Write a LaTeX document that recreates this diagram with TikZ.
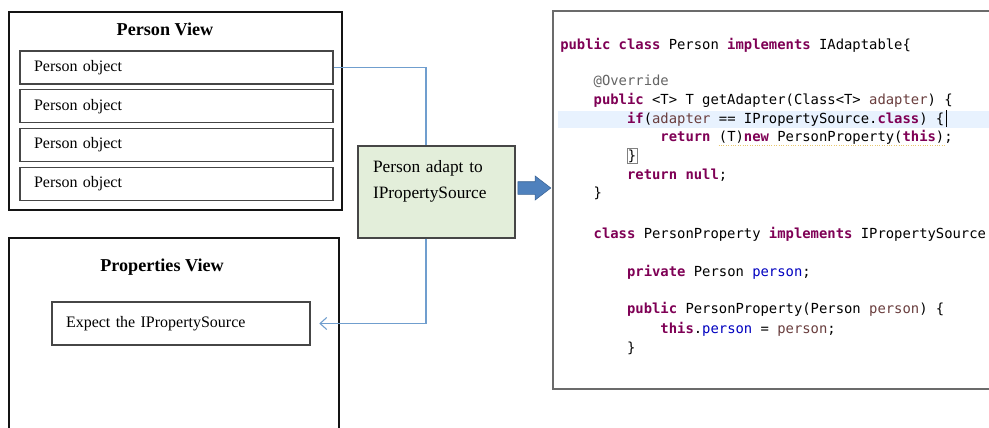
\documentclass[tikz,border=0pt]{standalone}
\usepackage{fontspec}
\setmainfont{Liberation Serif}
\newfontfamily\codefont{DejaVu Sans Mono}
\usetikzlibrary{positioning,arrows.meta,shapes.arrows}
\definecolor{frameink}{RGB}{20,20,20}
\definecolor{rowink}{RGB}{70,70,70}
\definecolor{linkblue}{RGB}{112,158,206}
\definecolor{adaptgreen}{RGB}{227,238,218}
\definecolor{fatblue}{RGB}{79,129,189}
\definecolor{fatedge}{RGB}{58,98,148}
\definecolor{kwpurple}{RGB}{127,0,85}
\definecolor{fldblue}{RGB}{0,0,192}
\definecolor{prmbrown}{RGB}{106,62,62}
\definecolor{anngray}{RGB}{100,100,100}
\definecolor{curline}{RGB}{232,242,254}
\definecolor{warnline}{RGB}{232,200,110}
\newcommand{\kw}[1]{\textcolor{kwpurple}{\bfseries #1}}
\newcommand{\fld}[1]{\textcolor{fldblue}{#1}}
\newcommand{\prm}[1]{\textcolor{prmbrown}{#1}}
\tikzset{
  viewframe/.style={draw=frameink,line width=2.2pt},
  viewtitle/.style={font=\bfseries\fontsize{13.6}{16}\selectfont},
  row/.style={draw=rowink,line width=0.9pt,minimum height=24.75pt,inner xsep=10.5pt,
              text width=213.75pt,align=left,font=\fontsize{12}{14}\selectfont},
  adaptbox/.style={draw=rowink,fill=adaptgreen,line width=0.8pt,minimum height=69pt,
              inner xsep=11.25pt,text width=95.25pt,align=left,
              font=\fontsize{13}{19.5}\selectfont},
  link/.style={draw=linkblue,line width=0.8pt},
  fatarrow/.style={single arrow,fill=fatblue,draw=fatedge,line width=0.4pt,
              minimum height=24.75pt,inner sep=4.5pt,single arrow head extend=4.3pt,
              single arrow tip angle=75},
  codeframe/.style={draw=rowink!80,line width=1pt,minimum width=335.25pt,minimum height=283.5pt},
  code/.style={anchor=base west,inner sep=0pt,font=\codefont\fontsize{10.4}{12}\selectfont}
}
\begin{document}
\begin{tikzpicture}[x=0.75pt,y=-0.75pt]
    \clip (0,0) rectangle (989,428);
    \fill[white] (0,0) rectangle (989,428);
    % --- Person View
    \node[viewframe,minimum width=249.75pt,minimum height=148.5pt] (pview) at (175.5,111) {};
    \node[viewtitle] (pvtitle) at (165,29) {Person View};
    \node[row] (obj1) at (176.5,67.5) {Person object};
    \node[row,below=3.4pt of obj1] (obj2) {Person object};
    \node[row,below=3.4pt of obj2] (obj3) {Person object};
    \node[row,below=3.4pt of obj3] (obj4) {Person object};
    % --- Properties View
    \node[viewframe,minimum width=247.5pt,minimum height=159pt] (prview) at (174,344) {};
    \node[viewtitle] (prtitle) at (162,267) {Properties View};
    \node[row,minimum height=32.25pt,text width=172.5pt] (expect) at (181,323.5)
      {Expect the IPropertySource};
    % --- adapter
    \node[adaptbox] (adapt) at (436.5,192) {Person adapt to\\IPropertySource\\\mbox{}};
    \coordinate (lane) at (426,0);
    \draw[link] (obj1.east) -| (lane |- adapt.north);
    \draw[link,-{Straight Barb[length=5pt,width=9pt]},shorten >=6.5pt]
      (lane |- adapt.south) |- (expect.east);
    \node[fatarrow,right=1.5pt of adapt,yshift=3pt] (fat) {};
    % --- code
    \node[codeframe] (code) at (776.5,200) {};
    \fill[curline] (558,111) rectangle (989,128);
    \node[code] (ln1) at (560,50) {\kw{public} \kw{class} Person \kw{implements} IAdaptable\{};
    \node[code] (ln2) at (593.4,86) {\textcolor{anngray}{@Override}};
    \node[code] (ln3) at (593.4,104) {\kw{public} <T> T getAdapter(Class<T> \prm{adapter}) \{};
    \node[code] (ln4) at (626.8,123) {\kw{if}(\prm{adapter} == IPropertySource.\kw{class}) \{};
    \node[code] (ln5) at (660.2,142) {\kw{return} (T)\kw{new} PersonProperty(\kw{this});};
    \node[code,draw=gray,inner sep=0.6pt] (ln6) at (626.8,160) {\}};
    \node[code] (ln7) at (626.8,179) {\kw{return} \kw{null};};
    \node[code] (ln8) at (593.4,197) {\}};
    \node[code] (ln9) at (593.4,238) {\kw{class} PersonProperty \kw{implements} IPropertySource};
    \node[code] (ln10) at (626.8,276) {\kw{private} Person \fld{person};};
    \node[code] (ln11) at (626.8,313) {\kw{public} PersonProperty(Person \prm{person}) \{};
    \node[code] (ln12) at (660.2,333) {\kw{this}.\fld{person} = \prm{person};};
    \node[code] (ln13) at (626.8,352) {\}};
    % cursor and warning underline
    \draw[line width=0.8pt] ([xshift=1.2pt,yshift=-3pt]ln4.base east) -- ([xshift=1.2pt,yshift=10pt]ln4.base east);
    \draw[warnline,densely dotted,line width=0.8pt]
      ([xshift=43.8pt,yshift=-2.5pt]ln5.base west) -- ([xshift=-6.3pt,yshift=-2.5pt]ln5.base east);
  \end{tikzpicture}
\end{document}
